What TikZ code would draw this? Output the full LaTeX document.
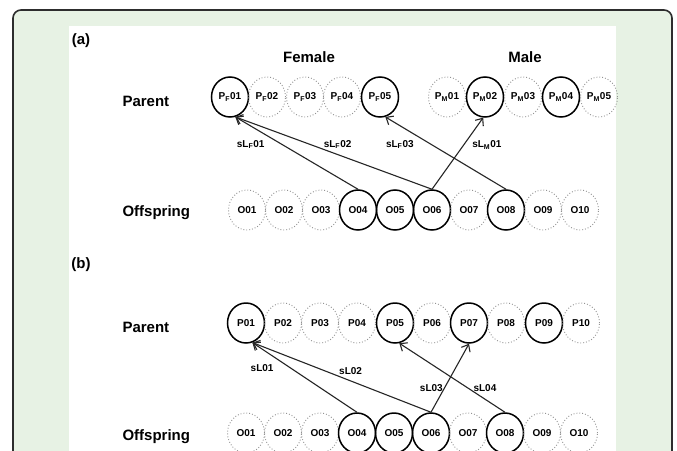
\documentclass[tikz,border=0pt]{standalone}
\usepackage{fontspec}
\setmainfont{Liberation Sans}
\usetikzlibrary{positioning, shapes.geometric, arrows.meta}
\definecolor{panelgreen}{RGB}{231,242,228}
\definecolor{framegray}{RGB}{45,45,45}
\tikzstyle{Link} = [
%Open-headed link from offspring to parent:
line width = 1.1pt, draw = black!85,
-{Straight Barb[length = 6pt, width = 10pt]}
]

\begin{document}
\begin{tikzpicture}[
			x = 1pt, y = -1pt,
			linked/.style = {ellipse, draw, line width = 1.5pt, minimum width = 37pt, minimum height = 40pt, inner sep = 0pt, font = \fontsize{10}{12}\selectfont\bfseries},
			unlinked/.style = {ellipse, draw = gray!85, dotted, line width = 0.9pt, minimum width = 37pt, minimum height = 40pt, inner sep = 0pt, font = \fontsize{10}{12}\selectfont\bfseries},
			heading/.style = {font = \fontsize{15}{18}\selectfont\bfseries},
			tag/.style = {inner sep = 0pt, font = \fontsize{10}{12}\selectfont\bfseries},
		]
		\useasboundingbox (0,0) rectangle (677,450);
		\draw[framegray, line width = 1.6pt, rounded corners = 8pt, fill = panelgreen] (13,10) rectangle (672,480);
		\fill[white] (69,26) rectangle (616,470);

		% (a) female and male parents
		\node[heading](capA) at (81,41){(a)};
		\node[heading](female) at (309,57){Female};
		\node[heading](male) at (525,57){Male};
		\node[heading, anchor = west](parA) at (119,101){Parent};
		\node[heading, anchor = west](offA) at (119,213){Offspring};

		\node[linked](pf1) at (230,97){P\textsubscript{F}01};
		\node[unlinked](pf2) at (267,97){P\textsubscript{F}02};
		\node[unlinked](pf3) at (305,97){P\textsubscript{F}03};
		\node[unlinked](pf4) at (342,97){P\textsubscript{F}04};
		\node[linked](pf5) at (380,97){P\textsubscript{F}05};
		\node[unlinked](pm1) at (447,97){P\textsubscript{M}01};
		\node[linked](pm2) at (485,97){P\textsubscript{M}02};
		\node[unlinked](pm3) at (523,97){P\textsubscript{M}03};
		\node[linked](pm4) at (561,97){P\textsubscript{M}04};
		\node[unlinked](pm5) at (599,97){P\textsubscript{M}05};

		\node[unlinked](oa1) at (247,210){O01};
		\node[unlinked](oa2) at (284,210){O02};
		\node[unlinked](oa3) at (321,210){O03};
		\node[linked](oa4) at (358,210){O04};
		\node[linked](oa5) at (395,210){O05};
		\node[linked](oa6) at (432,210){O06};
		\node[unlinked](oa7) at (469,210){O07};
		\node[linked](oa8) at (506,210){O08};
		\node[unlinked](oa9) at (543,210){O09};
		\node[unlinked](oa10) at (580,210){O10};

		\draw[Link](oa4.north)--node[tag, pos = 0.62, left = 17pt] {sL\textsubscript{F}01}(pf1.-75);
		\draw[Link](oa6.north)--node[tag, pos = 0.48, above = 5pt] {sL\textsubscript{F}02}(pf1.-75);
		\draw[Link](oa8.north)--node[tag, pos = 0.62, left = 17pt] {sL\textsubscript{F}03}(pf5.-75);
		\draw[Link](oa6.north)--node[tag, pos = 0.62, right = 8pt] {sL\textsubscript{M}01}(pm2.-95);

		% (b) parents without sex
		\node[heading](capB) at (81,265){(b)};
		\node[heading, anchor = west](parB) at (119,327){Parent};
		\node[heading, anchor = west](offB) at (119,437){Offspring};

		\node[linked](pb1) at (246,323){P01};
		\node[unlinked](pb2) at (283,323){P02};
		\node[unlinked](pb3) at (320,323){P03};
		\node[unlinked](pb4) at (357,323){P04};
		\node[linked](pb5) at (395,323){P05};
		\node[unlinked](pb6) at (432,323){P06};
		\node[linked](pb7) at (469,323){P07};
		\node[unlinked](pb8) at (506,323){P08};
		\node[linked](pb9) at (544,323){P09};
		\node[unlinked](pb10) at (581,323){P10};

		\node[unlinked](ob1) at (246,433){O01};
		\node[unlinked](ob2) at (283,433){O02};
		\node[unlinked](ob3) at (320,433){O03};
		\node[linked](ob4) at (357,433){O04};
		\node[linked](ob5) at (394,433){O05};
		\node[linked](ob6) at (431,433){O06};
		\node[unlinked](ob7) at (468,433){O07};
		\node[linked](ob8) at (505,433){O08};
		\node[unlinked](ob9) at (542,433){O09};
		\node[unlinked](ob10) at (579,433){O10};

		\draw[Link](ob4.north)--node[tag, pos = 0.63, left = 17pt] {sL01}(pb1.-72);
		\draw[Link](ob6.north)--node[tag, pos = 0.45, above = 6pt] {sL02}(pb1.-72);
		\draw[Link](ob6.north)--node[tag, pos = 0.35, left = 1pt] {sL03}(pb7.-90);
		\draw[Link](ob8.north)--node[tag, pos = 0.35, right = 5pt] {sL04}(pb5.-78);

	\end{tikzpicture}
\end{document}
